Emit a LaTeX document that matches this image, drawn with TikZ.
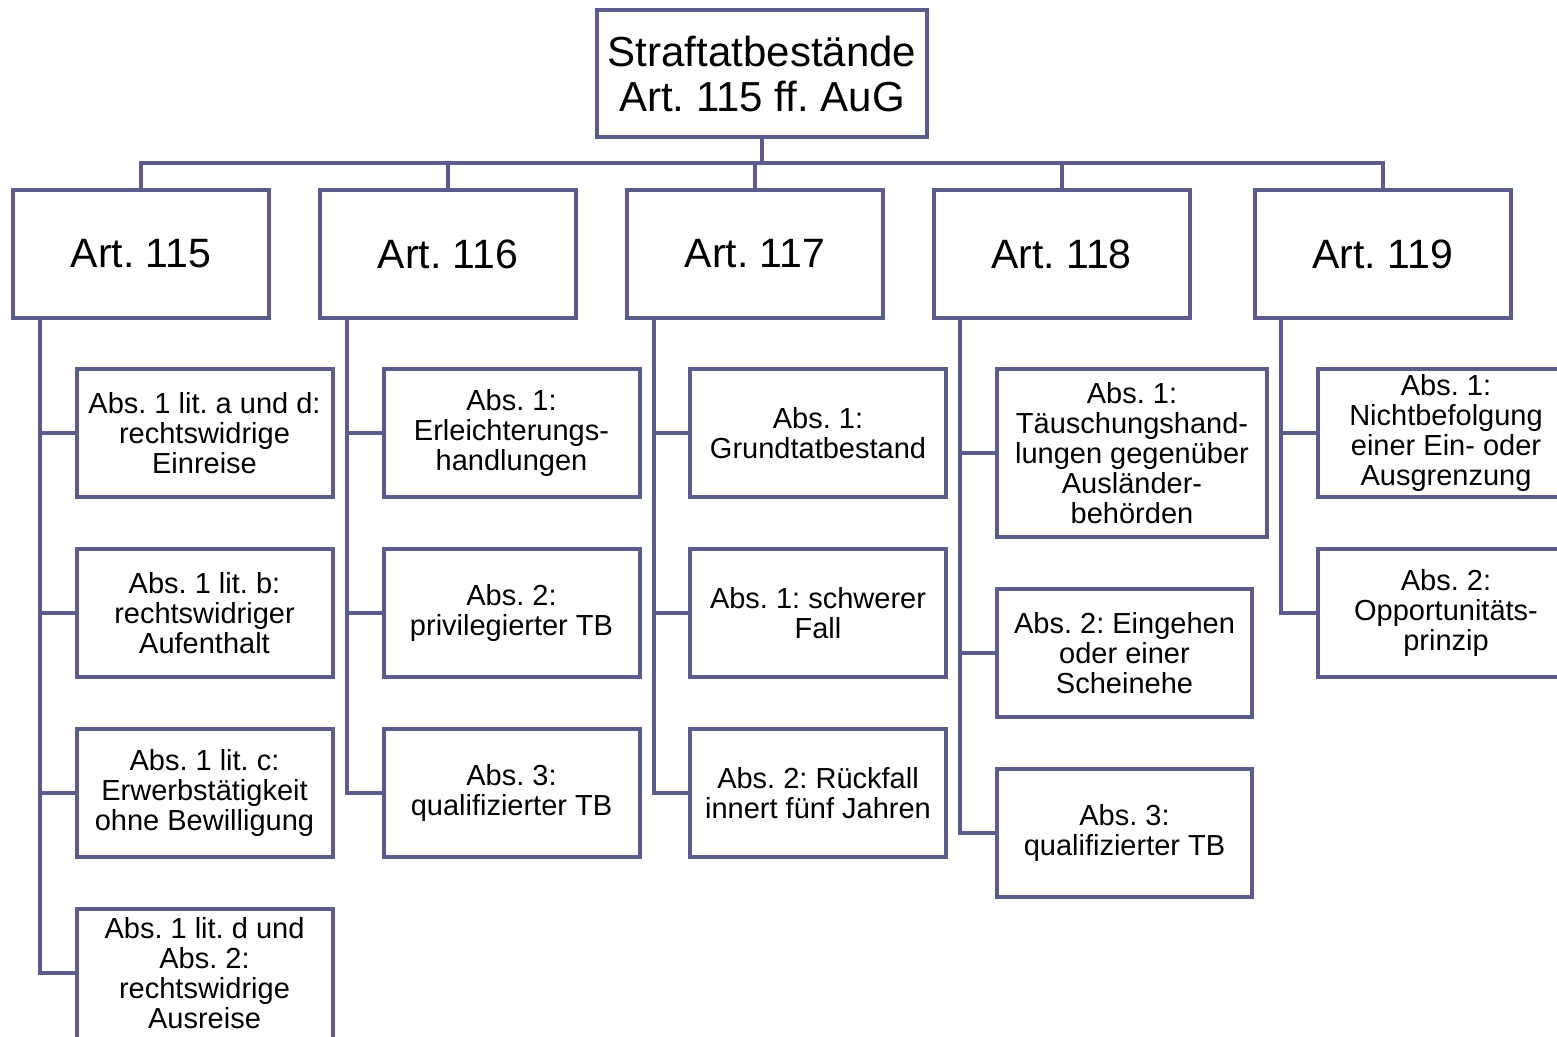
\documentclass[tikz,border=0pt]{standalone}
\usepackage{fontspec}
\setmainfont{Liberation Sans}
\definecolor{frame}{RGB}{92,92,140}
\begin{document}
\frenchspacing
\begin{tikzpicture}[x=1pt,y=-1pt,
  box/.style={draw=frame,line width=4pt,fill=white,inner sep=0pt,align=center,
    minimum width=256pt,minimum height=128pt},
  small/.style={box,font=\fontsize{29}{30}\selectfont},
  head/.style={box,font=\fontsize{41}{45}\selectfont},
  conn/.style={draw=frame,line width=4pt}]
\useasboundingbox (0,0) rectangle (1557,1036);
% root
\node[head,minimum width=330pt,minimum height=127pt,font=\fontsize{42}{45}\selectfont] (root) at (762,73.5) {Straftatbestände\\Art. 115 ff. AuG};
% articles
\node[head] (a115) at (141,254) {Art. 115};
\node[head] (a116) at (448,254) {Art. 116};
\node[head] (a117) at (755,254) {Art. 117};
\node[head] (a118) at (1061.5,254) {Art. 118};
\node[head] (a119) at (1382.5,254) {Art. 119};
% bus
\coordinate (bus) at (762,163);
\foreach \a in {a115,a116,a117,a118,a119}
  \draw[conn] (root.south) -- (bus) -| (\a.north);
% children Art. 115
\node[small] (c115a) at (204.5,433) {Abs. 1 lit. a und d:\\rechtswidrige\\Einreise};
\node[small] (c115b) at (204.5,613) {Abs. 1 lit. b:\\rechtswidriger\\Aufenthalt};
\node[small] (c115c) at (204.5,793) {Abs. 1 lit. c:\\Erwerbstätigkeit\\ohne Bewilligung};
\node[small,minimum height=136pt] (c115d) at (204.5,977) {};
\node[font=\fontsize{29}{30}\selectfont,align=center,inner sep=0pt] (t115d) at (204.5,973) {Abs. 1 lit. d und\\Abs. 2:\\rechtswidrige\\Ausreise};
% Art. 116
\node[small] (c116a) at (511.5,433) {Abs. 1:\\Erleichterungs-\\handlungen};
\node[small] (c116b) at (511.5,613) {Abs. 2:\\privilegierter TB};
\node[small] (c116c) at (511.5,793) {Abs. 3:\\qualifizierter TB};
% Art. 117
\node[small] (c117a) at (818,433) {Abs. 1:\\Grundtatbestand};
\node[small] (c117b) at (818,613) {Abs. 1: schwerer\\Fall};
\node[small] (c117c) at (818,793) {Abs. 2: Rückfall\\innert fünf Jahren};
% Art. 118
\node[small,minimum width=270pt,minimum height=168pt] (c118a) at (1132,453) {Abs. 1:\\Täuschungshand-\\lungen gegenüber\\Ausländer-\\behörden};
\node[small,minimum width=255pt] (c118b) at (1124.5,653) {Abs. 2: Eingehen\\oder einer\\Scheinehe};
\node[small,minimum width=255pt] (c118c) at (1124.5,833) {Abs. 3:\\qualifizierter TB};
% Art. 119
\node[small] (c119a) at (1446,433) {Abs. 1:\\Nichtbefolgung\\einer Ein- oder\\Ausgrenzung};
\node[small] (c119b) at (1446,613) {Abs. 2:\\Opportunitäts-\\prinzip};
% stems
\foreach \p/\cs in {a115/{c115a,c115b,c115c},a116/{c116a,c116b,c116c},a117/{c117a,c117b,c117c},a118/{c118a,c118b,c118c},a119/{c119a,c119b}}
  \foreach \c in \cs
    \draw[conn] ([xshift=28.5pt]\p.south west) |- (\c.west);
\draw[conn] ([xshift=28.5pt]a115.south west) |- ([yshift=4pt]c115d.west);
\end{tikzpicture}
\end{document}
